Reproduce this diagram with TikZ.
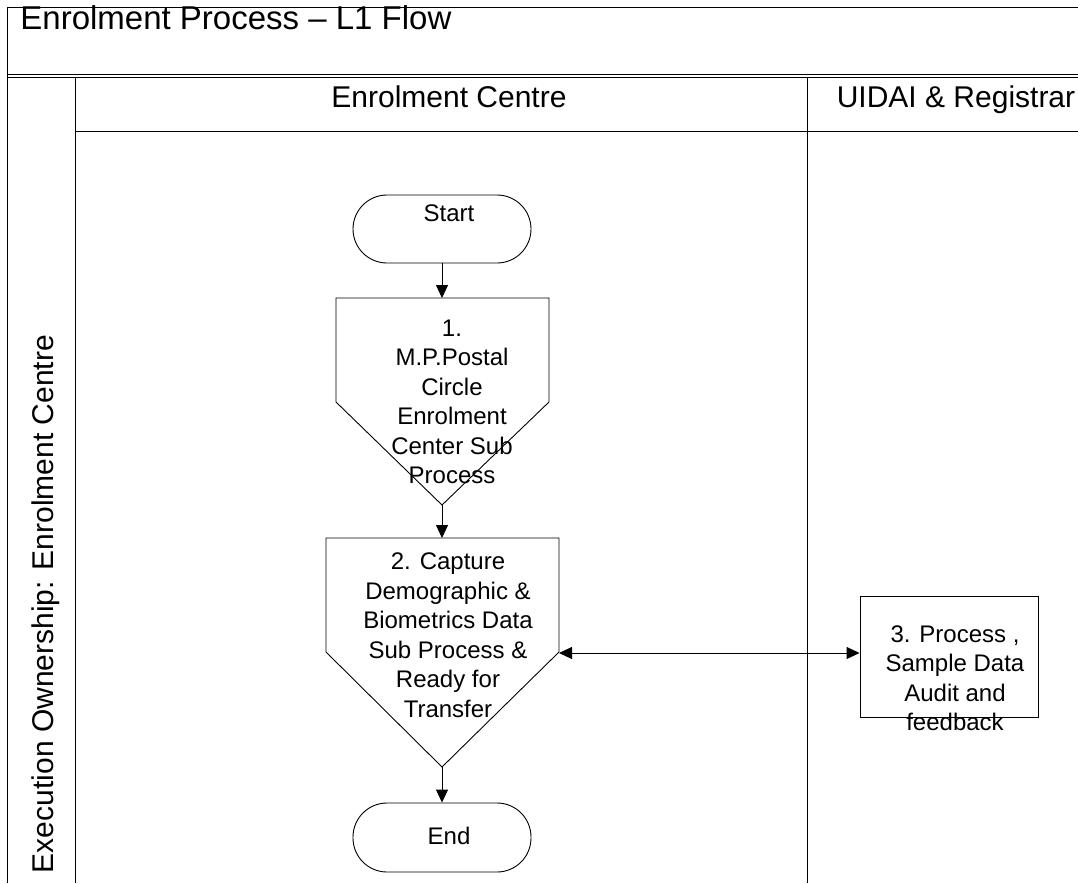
\documentclass[tikz,border=0pt]{standalone}
\usepackage{fontspec}
\setmainfont{Liberation Sans}
\usetikzlibrary{arrows.meta}
\begin{document}
\begin{tikzpicture}[x=1pt,y=-1pt, line width=0.9pt,
  flow/.style={-{Triangle[length=13pt,width=12pt]}},
  biflow/.style={{Triangle[length=13pt,width=12pt]}-{Triangle[length=13pt,width=12pt]}},
  lbl/.style={font=\fontsize{24}{29.5}\selectfont, align=center, inner sep=0pt},
  hdr/.style={font=\fontsize{30}{36}\selectfont, inner sep=0pt},
  term/.style={draw, rounded corners=34pt, minimum width=178pt, minimum height=68pt, inner sep=0pt},
  procbox/.style={draw, minimum width=178pt, minimum height=121pt, inner sep=0pt},
]
\useasboundingbox (0,0) rectangle (1078,883);
% frame
\draw (7,883) -- (7,7) -- (1078,7);
\draw (7,74) -- (1078,74);
\draw (7,77) -- (1078,77);
\draw (75,77) -- (75,883);
\draw (75,131) -- (1078,131);
\draw (807,77) -- (807,883);
% titles
\node[font=\fontsize{33}{40}\selectfont, anchor=base west, inner sep=0pt] (title) at (20,30) {Enrolment Process – L1 Flow};
\node[hdr, anchor=base] (lane1) at (449,107) {Enrolment Centre};
\node[hdr, anchor=base] (lane2) at (956,107) {UIDAI \& Registrar};
\node[hdr, rotate=90, anchor=base] (owner) at (53,604) {Execution Ownership: Enrolment Centre};
% start
\node[term] (start) at (442,229) {};
\node[lbl] (starttxt) at (449,213) {Start};
% block 1
\coordinate (b1top) at (442,298);
\coordinate (b1p) at (442,505);
\draw (336,298) -- (549,298) -- (549,402) -- (b1p) -- (336,402) -- cycle;
\node[lbl] (b1) at (452,402) {1.\\M.P.Postal\\Circle\\Enrolment\\Center Sub\\Process};
% block 2
\coordinate (b2top) at (442,538);
\coordinate (b2p) at (442,767);
\coordinate (b2r) at (559,653);
\draw (326,538) -- (559,538) -- (559,652) -- (b2p) -- (326,652) -- cycle;
\node[lbl] (b2) at (448,635) {2. Capture\\Demographic \&\\Biometrics Data\\Sub Process \&\\Ready for\\Transfer};
% end
\node[term, minimum height=69pt] (end) at (442,837.5) {};
\node[lbl] (endtxt) at (449,836) {End};
% box 3
\node[procbox] (box3) at (949,656.5) {};
\node[lbl] (box3txt) at (955,678) {3. Process ,\\Sample Data\\Audit and\\feedback};
% connectors
\draw[flow] (start.south) -- (b1top);
\draw[flow] (b1p) -- (b2top);
\draw[flow] (b2p) -- (end.north);
\draw[biflow] (b2r) -- (box3.west |- b2r);
\end{tikzpicture}
\end{document}
